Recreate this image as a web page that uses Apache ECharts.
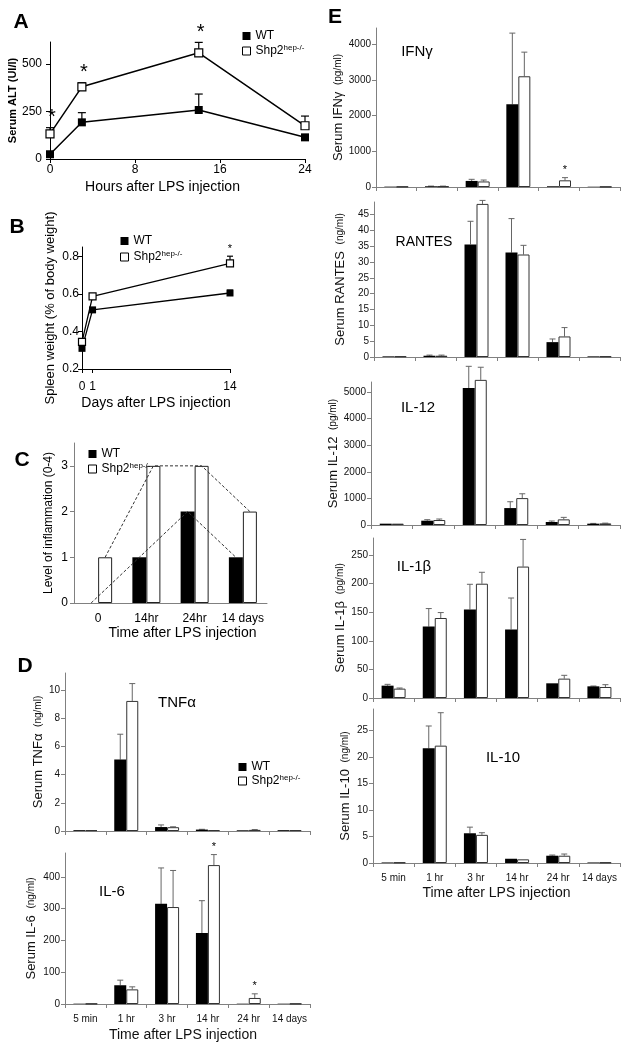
<!DOCTYPE html>
<html><head><meta charset="utf-8">
<script src="https://cdn.jsdelivr.net/npm/echarts@6/dist/echarts.min.js"></script>
<style>html,body{margin:0;padding:0;background:#fff}#c{width:628px;height:1050px}</style>
</head><body><div id="c"></div><script>
// ---------- DATA ----------
// A: serum ALT
const hoursA = [0, 3, 14, 24];
const hoursTicks = [0, 8, 16, 24];
const altTicks = [0, 250, 500];
const altWT = [25, 193, 258, 114];
const altWTErr = [0, 51, 84, 0];
const altKO = [132, 380, 559, 175];
const altKOErr = [33, 22, 55, 51];
const altSig = [0, 3, 14];
// B: spleen weight
const daysB = [0, 1, 14];
const spleenTicks = [0.2, 0.4, 0.6, 0.8];
const spleenWT = [0.31, 0.515, 0.605];
const spleenWTErr = [0, 0, 0.015];
const spleenKO = [0.345, 0.587, 0.763];
const spleenKOErr = [0.005, 0.005, 0.038];
const spleenSig = [14];
// C: inflammation
const inflamCats = ['0', '14hr', '24hr', '14 days'];
const inflamTicks = [0, 1, 2, 3];
const inflamWT = [0, 1, 2, 1];
const inflamKO = [1, 3, 3, 2];
// D/E: cytokines
const timeCats = ['5 min', '1 hr', '3 hr', '14 hr', '24 hr', '14 days'];
const tnfTicks = [0, 2, 4, 6, 8, 10];
const tnfWT = [0.06, 5.06, 0.28, 0.1, 0.05, 0.06];
const tnfWTErr = [0, 1.8, 0.15, 0.02, 0, 0];
const tnfKO = [0.06, 9.22, 0.27, 0.07, 0.08, 0.06];
const tnfKOErr = [0, 1.23, 0.03, 0, 0.02, 0];
const il6Ticks = [0, 100, 200, 300, 400];
const il6WT = [1, 59, 315, 223, 1, 1];
const il6WTErr = [0, 16, 113, 102, 0, 0];
const il6KO = [1, 46, 305, 437, 19, 1];
const il6KOErr = [0, 8, 115, 33, 13, 0];
const il6Sig = [3, 4];
const ifnTicks = [0, 1000, 2000, 3000, 4000];
const ifnWT = [10, 20, 170, 2313, 20, 8];
const ifnWTErr = [0, 5, 45, 1994, 0, 0];
const ifnKO = [10, 20, 155, 3099, 187, 8];
const ifnKOErr = [0, 5, 40, 675, 75, 0];
const ifnSig = [4];
const rantesTicks = [0, 5, 10, 15, 20, 25, 30, 35, 40, 45];
const rantesWT = [0.2, 0.4, 35.6, 33.0, 4.7, 0.2];
const rantesWTErr = [0, 0.2, 7.3, 10.75, 1.0, 0];
const rantesKO = [0.2, 0.4, 48.4, 32.4, 6.5, 0.2];
const rantesKOErr = [0, 0.2, 1.1, 2.9, 2.8, 0];
const il12Ticks = [0, 1000, 2000, 3000, 4000, 5000];
const il12WT = [50, 162, 5150, 637, 112, 50];
const il12WTErr = [0, 38, 820, 238, 38, 10];
const il12KO = [50, 187, 5460, 1012, 212, 60];
const il12KOErr = [0, 38, 475, 163, 75, 10];
const il1bTicks = [0, 50, 100, 150, 200, 250];
const il1bWT = [21.6, 125, 155, 120, 25.7, 20.4];
const il1bWTErr = [2.3, 31.5, 44, 55, 0, 0.6];
const il1bKO = [16.4, 140, 200, 230, 33.9, 19.3];
const il1bKOErr = [1.1, 9.5, 20, 47.5, 5.8, 4];
const il10Ticks = [0, 5, 10, 15, 20, 25];
const il10WT = [0.1, 21.6, 5.6, 0.8, 1.37, 0.1];
const il10WTErr = [0, 4.2, 1.15, 0, 0.13, 0];
const il10KO = [0.1, 22.1, 5.3, 0.69, 1.37, 0.1];
const il10KOErr = [0, 6.2, 0.4, 0, 0.32, 0];

// ---------- BUILD ----------
const FONT = '"Liberation Sans", Arial, sans-serif';
const AX = '#808080';
const plain = v => String(v);
const grids = [], xAxes = [], yAxes = [], series = [], legends = [], graphics = [];

function errSeries(xi, yi, xs, means, errs, offPx, color, cap, lw) {
  return {
    type: 'custom', xAxisIndex: xi, yAxisIndex: yi, silent: true, z: 1, clip: false,
    encode: {x: 0, y: [1, 2]},
    data: means.map((m, i) => [xs[i], m, m + errs[i]]),
    renderItem(p, api) {
      const lo = api.value(1), hi = api.value(2);
      if (!(hi > lo)) return null;
      const c0 = api.coord([api.value(0), lo]);
      const c1 = api.coord([api.value(0), hi]);
      const x = c0[0] + offPx;
      return {type: 'group', children: [
        {type: 'line', shape: {x1: x, y1: c0[1], x2: x, y2: c1[1]}, style: {stroke: color, lineWidth: lw}},
        {type: 'line', shape: {x1: x - cap, y1: c1[1], x2: x + cap, y2: c1[1]}, style: {stroke: color, lineWidth: lw}}
      ]};
    }
  };
}
function sigSeries(xi, yi, pts, offPx, size, gap, weight) {
  return {
    type: 'custom', xAxisIndex: xi, yAxisIndex: yi, silent: true, z: 6, clip: false,
    data: pts,
    renderItem(p, api) {
      const c = api.coord([api.value(0), api.value(1)]);
      return {type: 'text', x: c[0] + offPx, y: c[1] - gap,
        style: {text: '*', fill: '#000', font: (weight || 'normal') + ' ' + size + 'px ' + FONT,
          textAlign: 'center', textVerticalAlign: 'middle', align: 'center', verticalAlign: 'middle'}};
    }
  };
}
function legendAt(left, top, gap) {
  legends.push({
    left, top, orient: 'vertical', itemWidth: 8, itemHeight: 8, itemGap: gap, selectedMode: false,
    textStyle: {fontSize: 12, color: '#000', fontFamily: FONT,
      rich: {n: {fontSize: 12, lineHeight: 14, fontFamily: FONT}, s: {fontSize: 8, lineHeight: 8, verticalAlign: 'top', fontFamily: FONT}}},
    formatter: n => n === 'Shp2' ? '{n|Shp2}{s|hep-/-}' : '{n|WT}',
    data: [
      {name: 'WT', icon: 'rect', itemStyle: {color: '#000', borderWidth: 0}},
      {name: 'Shp2', icon: 'rect', itemStyle: {color: '#fff', borderColor: '#000', borderWidth: 1}}
    ]
  });
}
function txt(x, y, text, font, align) {
  graphics.push({type: 'text', x, y, silent: true,
    style: {text, font, fill: '#000', textAlign: align || 'center', textVerticalAlign: 'middle', align: align || 'center', verticalAlign: 'middle'}});
}

// ----- Panel A -----
(function () {
  const gi = grids.length;
  grids.push({left: 50, top: 42, width: 255, height: 117});
  xAxes.push({type: 'value', gridIndex: gi, min: 0, max: 24, interval: 8, splitLine: {show: false},
    axisLine: {onZero: false, lineStyle: {color: '#000'}}, axisTick: {length: 4, lineStyle: {color: '#000'}, customValues: hoursTicks},
    axisLabel: {fontSize: 12, color: '#000', margin: 5, customValues: hoursTicks},
    name: 'Hours after LPS injection', nameLocation: 'middle', nameGap: 21,
    nameTextStyle: {fontSize: 14, color: '#000', padding: [0, 30, 0, 0]}});
  const xi = xAxes.length - 1;
  yAxes.push({type: 'value', gridIndex: gi, min: 0, max: 616, splitLine: {show: false},
    axisLine: {show: true, onZero: false, lineStyle: {color: '#000'}}, axisTick: {show: true, length: 4, lineStyle: {color: '#000'}, customValues: altTicks},
    axisLabel: {fontSize: 12, color: '#000', margin: 8, customValues: altTicks, formatter: plain},
    name: 'Serum ALT (UI/l)', nameLocation: 'middle', nameGap: 30,
    nameTextStyle: {fontSize: 11, fontWeight: 'bold', color: '#000'}});
  const yi = yAxes.length - 1;
  series.push(errSeries(xi, yi, hoursA, altWT, altWTErr, 0, '#000', 4, 1.2));
  series.push(errSeries(xi, yi, hoursA, altKO, altKOErr, 0, '#000', 4, 1.2));
  series.push({type: 'line', name: 'WT', xAxisIndex: xi, yAxisIndex: yi, z: 3,
    data: hoursA.map((h, i) => [h, altWT[i]]), symbol: 'rect', symbolSize: 8, showAllSymbol: true,
    itemStyle: {color: '#000'}, lineStyle: {color: '#000', width: 1.5}});
  series.push({type: 'line', name: 'Shp2', xAxisIndex: xi, yAxisIndex: yi, z: 3,
    data: hoursA.map((h, i) => [h, altKO[i]]), symbol: 'rect', symbolSize: 8, showAllSymbol: true,
    itemStyle: {color: '#fff', borderColor: '#000', borderWidth: 1.2}, lineStyle: {color: '#000', width: 1.5}});
  series.push(sigSeries(xi, yi, altSig.map(h => { const i = hoursA.indexOf(h); return [h, altKO[i] + altKOErr[i]]; }), 2, 20, 10, 'normal'));
  legendAt(237, 25, 2);
})();

// ----- Panel B -----
(function () {
  const gi = grids.length;
  grids.push({left: 82, top: 247, width: 148, height: 122});
  xAxes.push({type: 'value', gridIndex: gi, min: 0, max: 14, splitLine: {show: false},
    axisLine: {onZero: false, lineStyle: {color: '#000'}}, axisTick: {length: 4, lineStyle: {color: '#000'}, customValues: daysB},
    axisLabel: {fontSize: 12, color: '#000', margin: 12, customValues: daysB},
    name: 'Days after LPS injection', nameLocation: 'middle', nameGap: 27,
    nameTextStyle: {fontSize: 14, color: '#000'}});
  const xi = xAxes.length - 1;
  yAxes.push({type: 'value', gridIndex: gi, min: 0.2, max: 0.85, splitLine: {show: false},
    axisLine: {show: true, onZero: false, lineStyle: {color: '#000'}}, axisTick: {show: true, length: 4, lineStyle: {color: '#000'}, customValues: spleenTicks},
    axisLabel: {fontSize: 12, color: '#000', margin: 3, customValues: spleenTicks, formatter: v => v.toFixed(1)},
    name: 'Spleen weight (% of body weight)', nameLocation: 'middle', nameGap: 25,
    nameTextStyle: {fontSize: 13, color: '#000'}});
  const yi = yAxes.length - 1;
  series.push(errSeries(xi, yi, daysB, spleenWT, spleenWTErr, 0, '#000', 3, 1.2));
  series.push(errSeries(xi, yi, daysB, spleenKO, spleenKOErr, 0, '#000', 3, 1.2));
  series.push({type: 'line', name: 'WT', xAxisIndex: xi, yAxisIndex: yi, z: 3,
    data: daysB.map((d, i) => [d, spleenWT[i]]), symbol: 'rect', symbolSize: 7, showAllSymbol: true,
    itemStyle: {color: '#000'}, lineStyle: {color: '#000', width: 1.3}});
  series.push({type: 'line', name: 'Shp2', xAxisIndex: xi, yAxisIndex: yi, z: 3,
    data: daysB.map((d, i) => [d, spleenKO[i]]), symbol: 'rect', symbolSize: 7, showAllSymbol: true,
    itemStyle: {color: '#fff', borderColor: '#000', borderWidth: 1.2}, lineStyle: {color: '#000', width: 1.3}});
  series.push(sigSeries(xi, yi, spleenSig.map(d => { const i = daysB.indexOf(d); return [d, spleenKO[i] + spleenKOErr[i]]; }), 0, 11, 7, 'normal'));
  legendAt(115, 230, 3);
})();

// ----- Panel C -----
(function () {
  const gi = grids.length;
  grids.push({left: 74, top: 443, width: 193, height: 160});
  xAxes.push({type: 'category', gridIndex: gi, data: inflamCats,
    axisLine: {onZero: false, lineStyle: {color: AX}}, axisTick: {show: false},
    axisLabel: {fontSize: 12, color: '#000', margin: 10, interval: 0},
    name: 'Time after LPS injection', nameLocation: 'middle', nameGap: 22,
    nameTextStyle: {fontSize: 14, color: '#000', padding: [0, 0, 0, 24]}});
  const xi = xAxes.length - 1;
  xAxes.push({type: 'value', gridIndex: gi, min: -0.5, max: 3.5, show: false, axisLine: {onZero: false}});
  const xv = xAxes.length - 1;
  yAxes.push({type: 'value', gridIndex: gi, min: 0, max: 3.5, splitLine: {show: false},
    axisLine: {show: true, onZero: false, lineStyle: {color: AX}}, axisTick: {show: true, length: 4, lineStyle: {color: AX}, customValues: inflamTicks},
    axisLabel: {fontSize: 12, color: '#000', margin: 6, customValues: inflamTicks},
    name: 'Level of inflammation (0-4)', nameLocation: 'middle', nameGap: 19,
    nameTextStyle: {fontSize: 12, color: '#000'}});
  const yi = yAxes.length - 1;
  const bw = 14, band = 193 / inflamCats.length, off = (bw / 2) / band;
  series.push({type: 'bar', name: 'WT', xAxisIndex: xi, yAxisIndex: yi, data: inflamWT, barWidth: bw, barGap: '0%',
    itemStyle: {color: '#000'}});
  series.push({type: 'bar', name: 'Shp2', xAxisIndex: xi, yAxisIndex: yi, data: inflamKO, barWidth: bw, barGap: '0%',
    itemStyle: {color: '#fff', borderColor: '#222', borderWidth: 1}});
  series.push({type: 'line', xAxisIndex: xv, yAxisIndex: yi, silent: true, z: 5, symbol: 'none',
    data: inflamWT.map((v, i) => [i - off, v]), lineStyle: {color: '#333', width: 1, type: [3, 2]}});
  series.push({type: 'line', xAxisIndex: xv, yAxisIndex: yi, silent: true, z: 5, symbol: 'none',
    data: inflamKO.map((v, i) => [i + off, v]), lineStyle: {color: '#333', width: 1, type: [3, 2]}});
  legendAt(83, 443, 2);
})();

// ----- Bar panels D/E -----
function barPanel(o) {
  const gi = grids.length;
  grids.push({left: o.left, top: o.top, width: o.width, height: o.height});
  xAxes.push({type: 'category', gridIndex: gi, data: timeCats,
    axisLine: {onZero: false, lineStyle: {color: AX, width: 1}}, axisTick: {show: true, length: 4, lineStyle: {color: AX}},
    axisLabel: {show: !!o.xName, fontSize: 10, color: '#111', margin: 10, interval: 0},
    name: o.xName || '', nameLocation: 'middle', nameGap: o.xGap || 24,
    nameTextStyle: {fontSize: 14, color: '#111', padding: o.xPad || 0}});
  const xi = xAxes.length - 1;
  yAxes.push({type: 'value', gridIndex: gi, min: 0, max: o.yMax, splitLine: {show: false},
    axisLine: {show: true, onZero: false, lineStyle: {color: AX}},
    axisTick: {show: true, length: 4, lineStyle: {color: AX}, customValues: o.ticks},
    axisLabel: {fontSize: 10, color: '#111', margin: 5, customValues: o.ticks, formatter: plain},
    name: '{a|Serum ' + o.label + '}  {b|' + o.unit + '}', nameLocation: 'middle', nameGap: o.yGap,
    nameTextStyle: {rich: {a: {fontSize: 13, color: '#111', fontFamily: FONT}, b: {fontSize: 10, color: '#111', fontFamily: FONT}}}});
  const yi = yAxes.length - 1;
  const bw = 12;
  const idx = timeCats.map((c, i) => i);
  series.push({type: 'bar', name: 'WT', xAxisIndex: xi, yAxisIndex: yi, data: o.wt, barWidth: bw, barGap: '0%', clip: false,
    itemStyle: {color: '#000'}});
  series.push({type: 'bar', name: 'Shp2', xAxisIndex: xi, yAxisIndex: yi, data: o.ko, barWidth: bw, barGap: '0%', clip: false,
    itemStyle: {color: '#fff', borderColor: '#333', borderWidth: 1}});
  series.push(errSeries(xi, yi, idx, o.wt, o.wtErr, -bw / 2, '#666', 3, 1));
  series.push(errSeries(xi, yi, idx, o.ko, o.koErr, bw / 2, '#666', 3, 1));
  if (o.sig) series.push(sigSeries(xi, yi, o.sig.map(i => [i, o.ko[i] + o.koErr[i]]), bw / 2, 11, 8, 'normal'));
}

barPanel({left: 65, top: 673, width: 245, height: 158, yMax: 11.2, ticks: tnfTicks, label: 'TNFα', unit: '(ng/ml)', yGap: 20,
  wt: tnfWT, wtErr: tnfWTErr, ko: tnfKO, koErr: tnfKOErr});
barPanel({left: 65, top: 853, width: 245, height: 151, yMax: 475, ticks: il6Ticks, label: 'IL-6', unit: '(ng/ml)', yGap: 27,
  wt: il6WT, wtErr: il6WTErr, ko: il6KO, koErr: il6KOErr, sig: il6Sig,
  xName: 'Time after LPS injection', xGap: 24, xPad: [0, 9, 0, 0]});
barPanel({left: 376, top: 28, width: 244, height: 159, yMax: 4450, ticks: ifnTicks, label: 'IFNγ', unit: '(pg/ml)', yGap: 30,
  wt: ifnWT, wtErr: ifnWTErr, ko: ifnKO, koErr: ifnKOErr, sig: ifnSig});
barPanel({left: 374, top: 202, width: 246, height: 155, yMax: 49, ticks: rantesTicks, label: 'RANTES', unit: '(ng/ml)', yGap: 27,
  wt: rantesWT, wtErr: rantesWTErr, ko: rantesKO, koErr: rantesKOErr});
barPanel({left: 371, top: 382, width: 249, height: 143, yMax: 5380, ticks: il12Ticks, label: 'IL-12', unit: '(pg/ml)', yGap: 30,
  wt: il12WT, wtErr: il12WTErr, ko: il12KO, koErr: il12KOErr});
barPanel({left: 373, top: 538, width: 247, height: 160, yMax: 280, ticks: il1bTicks, label: 'IL-1β', unit: '(pg/ml)', yGap: 26,
  wt: il1bWT, wtErr: il1bWTErr, ko: il1bKO, koErr: il1bKOErr});
barPanel({left: 373, top: 709, width: 247, height: 154, yMax: 29, ticks: il10Ticks, label: 'IL-10', unit: '(ng/ml)', yGap: 21,
  wt: il10WT, wtErr: il10WTErr, ko: il10KO, koErr: il10KOErr,
  xName: 'Time after LPS injection', xGap: 23});
legendAt(233, 756, 1);

// ----- Text labels -----
const LETTER = 'bold 21px ' + FONT;
txt(21, 22, 'A', LETTER); txt(17, 227, 'B', LETTER); txt(22, 460, 'C', LETTER);
txt(25, 666, 'D', LETTER); txt(335, 17, 'E', LETTER);
const ANN = '15px ' + FONT;
txt(177, 703, 'TNFα', ANN); txt(112, 892, 'IL-6', ANN);
txt(417, 52, 'IFNγ', ANN); txt(424, 242, 'RANTES', '14px ' + FONT); txt(418, 408, 'IL-12', ANN);
txt(414, 567, 'IL-1β', ANN); txt(503, 758, 'IL-10', ANN);

const chart = echarts.init(document.getElementById('c'), null, {renderer: 'canvas'});
chart.setOption({
  animation: false,
  backgroundColor: '#fff',
  textStyle: {fontFamily: FONT},
  grid: grids, xAxis: xAxes, yAxis: yAxes, series, legend: legends, graphic: graphics
});
</script></body></html>
